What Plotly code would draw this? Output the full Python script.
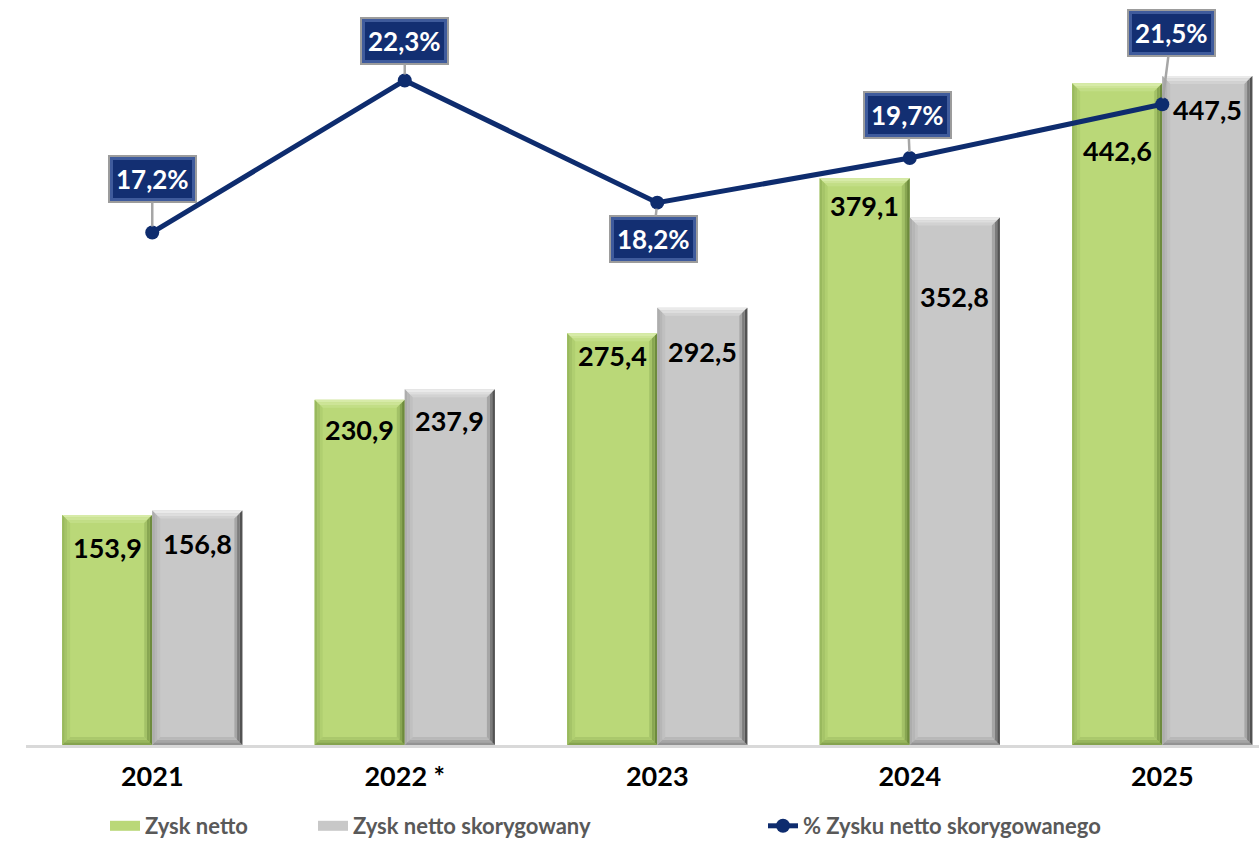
import plotly.graph_objects as go

# --- data ---------------------------------------------------------------
years = ["2021", "2022 *", "2023", "2024", "2025"]
zysk_netto = [153.9, 230.9, 275.4, 379.1, 442.6]
zysk_skorygowany = [156.8, 237.9, 292.5, 352.8, 447.5]
pct_skorygowany = [17.2, 22.3, 18.2, 19.7, 21.5]

series_names = ["Zysk netto", "Zysk netto skorygowany", "% Zysku netto skorygowanego"]

# label placement (pixels): distance of the value text below the bar top
netto_label_drop = [33, 30, 22, 27, 67]
skoryg_label_drop = [33, 31, 44, 79, 34]
# pixel offsets of the percentage boxes from their markers
pct_box_dx = [0, 0, -4, -2, 9]
pct_box_dy = [-53, -39, 36, -43, -71]
# left edge (pixels) of each legend entry's text
legend_text_px = [145, 353, 803]

# --- geometry -----------------------------------------------------------
W, H = 1259, 847
M_L, M_R, M_T, M_B = 26, 0, 0, 102
PX_PER_CAT = 252.5
PLOT_W = W - M_L - M_R
PLOT_H = H - M_T - M_B
X_RANGE = [-0.5, -0.5 + PLOT_W / PX_PER_CAT]
Y_MAX = 498.3
Y2_MAX = 25.0
BAR_W = 0.357

px_x = 1.0 / PX_PER_CAT          # one pixel in x data units
px_y = Y_MAX / PLOT_H            # one pixel in y data units

FONT = "Lato, 'Open Sans', sans-serif"
NAVY = "#0E2C6E"
GREEN = "#BAD878"
GREY = "#C8C8C8"

pos = list(range(len(years)))

fig = go.Figure()

fig.add_trace(go.Bar(
    x=pos, y=zysk_netto, name=series_names[0],
    offset=-BAR_W, width=BAR_W, showlegend=False,
    marker=dict(color=GREEN, line=dict(width=0)),
    hoverinfo="skip",
))
fig.add_trace(go.Bar(
    x=pos, y=zysk_skorygowany, name=series_names[1],
    offset=0, width=BAR_W, showlegend=False,
    marker=dict(color=GREY, line=dict(width=0)),
    hoverinfo="skip",
))


def mix(c1, c2, t):
    a = [int(c1[i:i + 2], 16) for i in (1, 3, 5)]
    b = [int(c2[i:i + 2], 16) for i in (1, 3, 5)]
    return "#" + "".join(f"{round(a[k] + (b[k] - a[k]) * t):02x}" for k in range(3))


def add_bevel(values, left_offset, face, edges, thick=8, bands=3):
    """Beveled edges drawn as filled polygons around each bar."""
    bx, by = thick * px_x, thick * px_y
    for side, edge_col in edges.items():
        for b in range(bands):
            t0, t1 = b / bands, (b + 1) / bands
            xs, ys = [], []
            for i, v in zip(pos, values):
                x0 = i + left_offset
                x1 = x0 + BAR_W
                if side == "top":
                    poly = [(x0 + bx * t0, v - by * t0), (x1 - bx * t0, v - by * t0),
                            (x1 - bx * t1, v - by * t1), (x0 + bx * t1, v - by * t1)]
                elif side == "bottom":
                    poly = [(x0 + bx * t0, by * t0), (x1 - bx * t0, by * t0),
                            (x1 - bx * t1, by * t1), (x0 + bx * t1, by * t1)]
                elif side == "left":
                    poly = [(x0 + bx * t0, by * t0), (x0 + bx * t0, v - by * t0),
                            (x0 + bx * t1, v - by * t1), (x0 + bx * t1, by * t1)]
                else:
                    poly = [(x1 - bx * t0, by * t0), (x1 - bx * t0, v - by * t0),
                            (x1 - bx * t1, v - by * t1), (x1 - bx * t1, by * t1)]
                for px_, py_ in poly + [poly[0]]:
                    xs.append(px_)
                    ys.append(py_)
                xs.append(None)
                ys.append(None)
            col = mix(edge_col, face, (b + 0.5) / bands * 0.9)
            fig.add_trace(go.Scatter(
                x=xs, y=ys, mode="lines", fill="toself", fillcolor=col,
                line=dict(width=0, color=col), showlegend=False, hoverinfo="skip",
            ))


add_bevel(zysk_netto, -BAR_W, GREEN,
          {"top": "#DCEEB0", "left": "#93B35A", "bottom": "#7C9A48", "right": "#5F7D33"})
add_bevel(zysk_skorygowany, 0, GREY,
          {"top": "#F0F0F0", "left": "#A8A8A8", "bottom": "#8A8A8A", "right": "#3E3E3E"})

fig.add_trace(go.Scatter(
    x=pos, y=pct_skorygowany, name=series_names[2],
    yaxis="y2", mode="lines+markers",
    line=dict(color=NAVY, width=5),
    marker=dict(color=NAVY, size=14),
    hoverinfo="skip", legend="legend3",
))

# legend keys for the bar series (wide bar-shaped swatches)
fig.add_trace(go.Scatter(
    x=[None], y=[None], name=series_names[0], mode="lines",
    line=dict(color=GREEN, width=12), legend="legend", hoverinfo="skip",
))
fig.add_trace(go.Scatter(
    x=[None], y=[None], name=series_names[1], mode="lines",
    line=dict(color=GREY, width=12), legend="legend2", hoverinfo="skip",
))

annotations = []

# value labels inside the bars
for i in pos:
    annotations.append(dict(
        x=i - BAR_W / 2, y=zysk_netto[i], xref="x", yref="y",
        text=f"{zysk_netto[i]:.1f}".replace(".", ","), showarrow=False,
        yanchor="middle", yshift=-netto_label_drop[i],
        font=dict(family=FONT, size=27, color="black", weight="bold"),
    ))
    annotations.append(dict(
        x=i + BAR_W / 2, y=zysk_skorygowany[i], xref="x", yref="y",
        text=f"{zysk_skorygowany[i]:.1f}".replace(".", ","), showarrow=False,
        yanchor="middle", yshift=-skoryg_label_drop[i],
        font=dict(family=FONT, size=27, color="black", weight="bold"),
    ))

# percentage call-outs: outer beveled frame with leader line, then inner face
for i in pos:
    txt = f"{pct_skorygowany[i]:.1f}%".replace(".", ",")
    annotations.append(dict(
        x=i, y=pct_skorygowany[i], xref="x", yref="y2",
        text=txt, showarrow=True, arrowhead=0, arrowwidth=2.5,
        arrowcolor="#A6A6A6", standoff=6,
        ax=pct_box_dx[i], ay=pct_box_dy[i],
        bgcolor="#3F5B9C", bordercolor="#9C9C9C", borderwidth=2, borderpad=6,
        font=dict(family=FONT, size=26, color="#3F5B9C", weight="bold"),
    ))
    annotations.append(dict(
        x=i, y=pct_skorygowany[i], xref="x", yref="y2",
        text=txt, showarrow=False,
        xanchor="center", yanchor="middle",
        xshift=pct_box_dx[i], yshift=-pct_box_dy[i],
        bgcolor="#132F72", borderwidth=0, borderpad=3,
        font=dict(family=FONT, size=26, color="white", weight="bold"),
    ))

legend_font = dict(family=FONT, size=22, color="#595959", weight="bold")
legend_y = -(826 - PLOT_H) / PLOT_H


def legend_box(text_px):
    return dict(
        orientation="h", x=(text_px - 40 - M_L) / PLOT_W, xanchor="left",
        y=legend_y, yanchor="middle", font=legend_font,
        bgcolor="rgba(0,0,0,0)", borderwidth=0,
    )


fig.update_layout(
    width=W, height=H,
    margin=dict(l=M_L, r=M_R, t=M_T, b=M_B, pad=0, autoexpand=False),
    paper_bgcolor="white", plot_bgcolor="white",
    barmode="overlay",
    showlegend=True,
    legend=legend_box(legend_text_px[0]),
    legend2=legend_box(legend_text_px[1]),
    legend3=legend_box(legend_text_px[2]),
    xaxis=dict(
        range=X_RANGE, tickvals=pos, ticktext=years,
        showgrid=False, zeroline=False,
        showline=True, linecolor="#D9D9D9", linewidth=3,
        ticks="outside", ticklen=6, tickcolor="rgba(0,0,0,0)",
        tickfont=dict(family=FONT, size=27, color="black", weight="bold"),
        fixedrange=True, automargin=False,
    ),
    yaxis=dict(range=[0, Y_MAX], visible=False, fixedrange=True),
    yaxis2=dict(range=[0, Y2_MAX], overlaying="y", visible=False, fixedrange=True),
    annotations=annotations,
)

fig.write_html("out.html")
